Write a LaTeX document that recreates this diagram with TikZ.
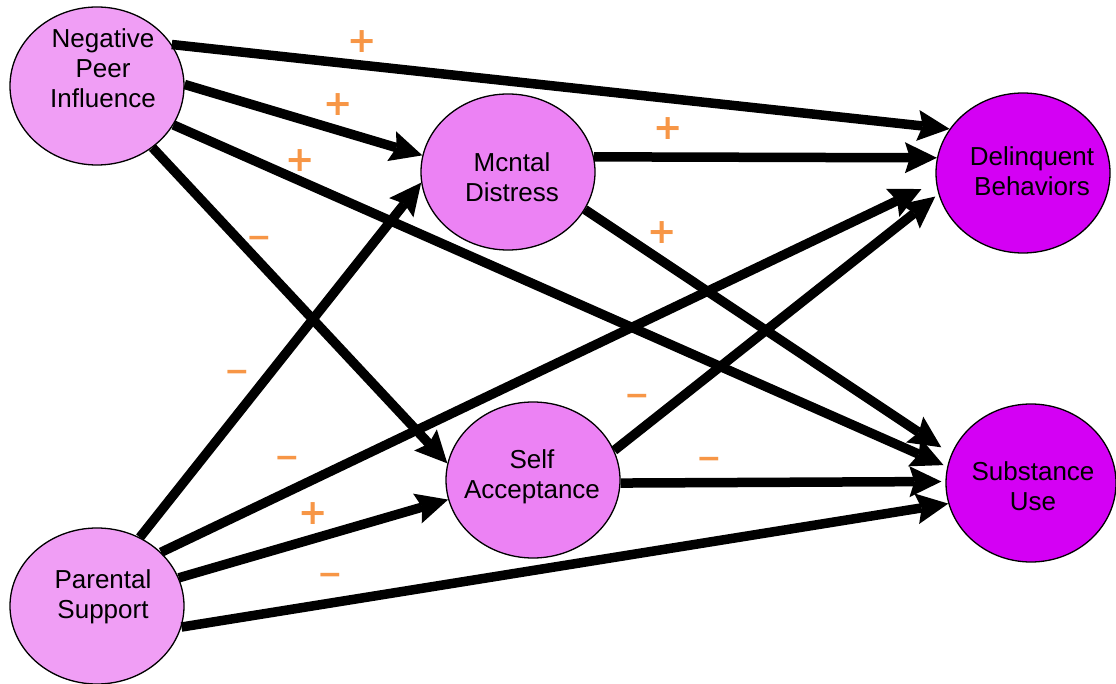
\documentclass[tikz,border=0pt]{standalone}
\usepackage{fontspec}
\setmainfont{Liberation Sans}
\newfontfamily\signfont{DejaVu Sans}
\usetikzlibrary{shapes.geometric,arrows.meta}
\definecolor{lightv}{RGB}{240,158,245}
\definecolor{midv}{RGB}{236,130,244}
\definecolor{darkv}{RGB}{212,0,244}
\definecolor{signc}{RGB}{247,150,70}
\begin{document}
\begin{tikzpicture}[x=1pt,y=-1pt,
  varnode/.style={ellipse, draw=black, line width=1.3pt, inner sep=0pt},
  lbl/.style={font=\fontsize{26}{30}\selectfont, align=center, text=black, inner sep=0pt},
  arr/.style={line width=9.5pt, -{Stealth[length=32pt,width=31pt,inset=5pt,line width=0pt]}},
  plus/.style={text=signc, font=\signfont\fontsize{35}{35}\selectfont\bfseries, inner sep=0pt},
  minus/.style={text=signc, font=\signfont\fontsize{30}{30}\selectfont\bfseries, inner sep=0pt}
]
\useasboundingbox (0,0) rectangle (1116,684);
\fill[white] (0,0) rectangle (1116,684);
% variables
\node[varnode, fill=lightv, minimum width=174pt, minimum height=158pt] (npi) at (97,86) {};
\node[varnode, fill=lightv, minimum width=174pt, minimum height=156pt] (ps) at (97,606) {};
\node[varnode, fill=midv, minimum width=174pt, minimum height=156pt] (md) at (508,172) {};
\node[varnode, fill=midv, minimum width=174pt, minimum height=156pt] (sa) at (533,480) {};
\node[varnode, fill=darkv, minimum width=174pt, minimum height=160pt] (db) at (1023,173) {};
\node[varnode, fill=darkv, minimum width=170pt, minimum height=158pt] (su) at (1031,483) {};
% texts
\node[lbl] (npiT) at (103,68) {Negative\\Peer\\Influence};
\node[lbl] (psT) at (103,597) {Parental\\Support};
\node[lbl] (mdT) at (512,177) {Mcntal\\Distress};
\node[lbl] (saT) at (532,477) {Self\\Acceptance};
\node[lbl] (dbT) at (1032,171) {Delinquent\\Behaviors};
\node[lbl] (suT) at (1033,486) {Substance\\Use};
% connectors
\draw[arr] (npi.29) -- (db.149);
\draw[arr] (npi.1) -- (md.169);
\draw[arr, shorten >=4pt] (npi.-27) -- (su.169);
\draw[arr] (npi.-48) -- (sa.169);
\draw[arr] (md.10) -- (db.170);
\draw[arr, shorten >=12pt] (md.-26) -- (su.160);
\draw[arr] (ps.58) -- (md.187);
\draw[arr, shorten >=16pt] (ps.40) -- (db.186);
\draw[arr] (ps.19) -- (sa.193);
\draw[arr] (ps.-14) -- (su.194);
\draw[arr, shorten >=4pt] (sa.20) -- (db.194);
\draw[arr, shorten >=4pt] (sa.-2) -- (su.179);
% signs
\node[plus] (s1) at (362,42) {+};
\node[plus] (s2) at (338,105) {+};
\node[plus] (s3) at (300,161) {+};
\node[minus] (s4) at (259,242) {−};
\node[plus] (s5) at (668,129) {+};
\node[plus] (s6) at (662,233) {+};
\node[minus] (s7) at (237,376) {−};
\node[minus] (s8) at (287,462) {−};
\node[plus] (s9) at (313,514) {+};
\node[minus] (s10) at (330,579) {−};
\node[minus] (s11) at (637,400) {−};
\node[minus] (s12) at (709,463) {−};
\end{tikzpicture}
\end{document}
